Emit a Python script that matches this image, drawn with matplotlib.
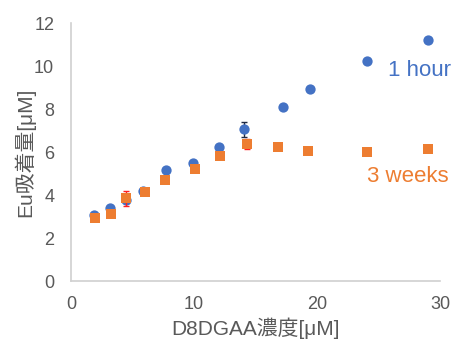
import matplotlib.pyplot as plt

plt.rcParams["font.family"] = ["Liberation Sans", "Noto Sans CJK JP", "DejaVu Sans"]

# D8DGAA concentration [uM] vs adsorbed Eu [uM]
conc_1h = [1.9, 3.2, 4.45, 5.9, 7.7, 9.9, 12.0, 14.1, 17.2, 19.4, 24.1, 29.0]
eu_1h = [3.07, 3.4, 3.75, 4.19, 5.15, 5.5, 6.25, 7.05, 8.12, 8.92, 10.25, 11.2]
err_1h = [0, 0, 0, 0, 0, 0, 0, 0.35, 0, 0, 0, 0]

conc_3w = [1.95, 3.25, 4.5, 6.0, 7.65, 10.1, 12.1, 14.3, 16.8, 19.3, 24.1, 29.0]
eu_3w = [2.95, 3.12, 3.85, 4.12, 4.68, 5.22, 5.8, 6.38, 6.25, 6.03, 6.0, 6.12]
err_3w = [0, 0, 0.35, 0, 0, 0, 0, 0.25, 0.12, 0, 0, 0]

blue = "#4472C4"
orange = "#ED7D31"
gray = "#595959"

fig = plt.figure(figsize=(4.57, 3.40), dpi=100)
ax = fig.add_axes([0.155, 0.1735, 0.808, 0.7585])

ax.errorbar(conc_1h, eu_1h, yerr=err_1h, fmt="none", ecolor="#1F2A44",
            elinewidth=1, capsize=2.5, zorder=2)
ax.scatter(conc_1h, eu_1h, s=55, marker="o", color=blue, linewidths=0, zorder=3)

ax.errorbar(conc_3w, eu_3w, yerr=err_3w, fmt="none", ecolor="#FF2020",
            elinewidth=1, capsize=2.5, zorder=4)
ax.scatter(conc_3w, eu_3w, s=60, marker="s", color=orange, linewidths=0, zorder=5)

ax.text(25.8, 9.8, "1 hour", color=blue, fontsize=16, ha="left", va="center")
ax.text(24.1, 4.84, "3 weeks", color=orange, fontsize=16, ha="left", va="center")

ax.set_xlim(0, 30)
ax.set_ylim(0, 12)
ax.set_xticks([0, 10, 20, 30])
ax.set_yticks(range(0, 13, 2))
ax.tick_params(length=0, labelsize=13, labelcolor=gray)
ax.tick_params(axis="x", pad=11)
ax.tick_params(axis="y", pad=12)

for side in ["top", "right"]:
    ax.spines[side].set_visible(False)
for side in ["left", "bottom"]:
    ax.spines[side].set_color("#D0D0D0")
    ax.spines[side].set_linewidth(1.2)

ax.set_xlabel("D8DGAA濃度[μM]", fontsize=15, color=gray, labelpad=3)
ax.set_ylabel("Eu吸着量[μM]", fontsize=15, color=gray, labelpad=-1)

fig.savefig("out.png", dpi=100)
